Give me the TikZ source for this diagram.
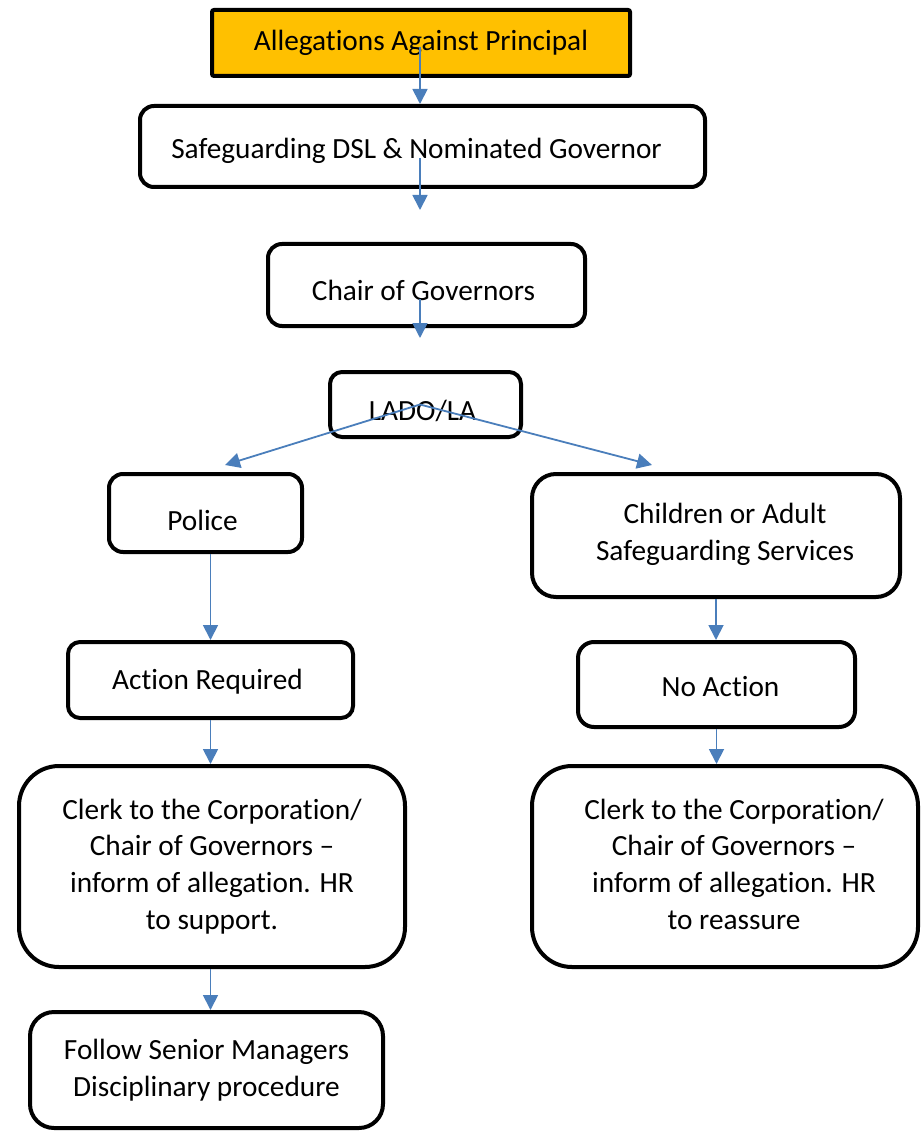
\documentclass[tikz,border=0pt]{standalone}
\usepackage{fontspec}
\setmainfont{Carlito}[Ligatures=NoCommon]
\usetikzlibrary{arrows.meta}

\definecolor{alleggold}{HTML}{FFC000}
\definecolor{arrowblue}{HTML}{4A7EBB}

% move a one-line text inside its box without changing the box
\newcommand{\nudge}[3]{\raisebox{#2}[\height][\depth]{\hspace*{#1}#3\hspace*{-#1}}}

\begin{document}
\begin{tikzpicture}[x=1pt,y=-1pt,
	box/.style={draw=black,line width=4pt,align=center,inner sep=0pt,
		font=\fontsize{29.3}{36.7}\selectfont},
	txt/.style={align=center,inner sep=0pt,font=\fontsize{29.3}{36.7}\selectfont},
	arr/.style={draw=arrowblue,line width=1.8pt,-{Triangle[length=15pt,width=15pt]}}]
	\useasboundingbox (0,0) rectangle (922,1131);

	% boxes
	\node[box,fill=alleggold,rounded corners=2pt,minimum width=418pt,minimum height=66pt] (alleg) at (421,43) {Allegations Against Principal};
	\node[box,rounded corners=14pt,minimum width=565pt,minimum height=81pt] (safe) at (422.5,146.5) {\nudge{-6pt}{-4pt}{Safeguarding DSL \& Nominated Governor}};
	\node[box,rounded corners=14pt,minimum width=317pt,minimum height=82pt] (chair) at (426.5,285) {\nudge{-3pt}{-5pt}{Chair of Governors}};
	\node[box,rounded corners=12pt,minimum width=191pt,minimum height=65pt] (lado) at (425.5,404.5) {\nudge{-3pt}{-6pt}{LADO/LA}};
	\node[box,rounded corners=14pt,minimum width=193pt,minimum height=78pt] (police) at (205.5,513) {\nudge{-3pt}{-7pt}{Police}};
	\node[box,rounded corners=24pt,minimum width=368pt,minimum height=123pt] (child) at (716,535.5) {};
	\node[box,rounded corners=12pt,minimum width=285pt,minimum height=76pt] (action) at (210.5,680) {\nudge{-3pt}{-2pt}{Action Required}};
	\node[box,rounded corners=16pt,minimum width=277pt,minimum height=85pt] (noact) at (716.5,684.5) {\nudge{4pt}{-2pt}{No Action}};
	\node[box,rounded corners=40pt,minimum width=386pt,minimum height=201pt] (clerkl) at (212,866.5) {Clerk to the Corporation/\\Chair of Governors --\\inform of allegation. HR\\to support.};
	\node[box,rounded corners=40pt,minimum width=386pt,minimum height=201pt] (clerkr) at (725,866.5) {};
	\node[box,rounded corners=24pt,minimum width=353pt,minimum height=116pt] (follow) at (206.5,1070) {Follow Senior Managers\\Disciplinary procedure};

	% texts set off centre
	\node[txt] (childtext) at (725,534) {Children or Adult\\Safeguarding Services};
	\node[txt] (clerkrtext) at (734,864) {Clerk to the Corporation/\\Chair of Governors --\\inform of allegation. HR\\to reassure};

	% free arrow ends
	\coordinate (gap1) at (420,210);
	\coordinate (gap2) at (420,338);
	\coordinate (gapl) at (225,465);
	\coordinate (gapr) at (652,465);

	% arrows
	\draw[arr] ([yshift=-4pt]alleg.center -| gap1) -- (gap1 |- safe.north);
	\draw[arr] ([yshift=-12pt]safe.center -| gap1) -- (gap1);
	\draw[arr] ([yshift=-14pt]chair.center -| gap2) -- (gap2);
	\draw[arr] (lado.center -| gap2) -- (gapl);
	\draw[arr] (lado.center -| gap2) -- (gapr);
	\draw[arr] (police.south -| action.north) -- (action.north);
	\draw[arr] (action.south) -- (action.south |- clerkl.north);
	\draw[arr] (action.south |- clerkl.south) -- (action.south |- follow.north);
	\draw[arr] (child.south) -- (child.south |- noact.north);
	\draw[arr] (noact.south) -- (noact.south |- clerkr.north);
\end{tikzpicture}
\end{document}
